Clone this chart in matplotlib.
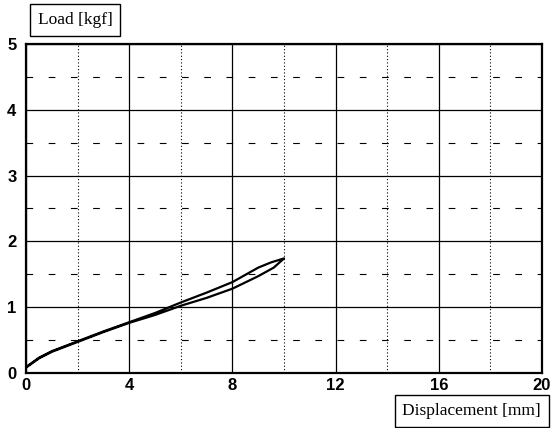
import matplotlib
matplotlib.use('Agg')  # noqa
import matplotlib.pyplot as plt

# loop: out along the lower branch, back along the upper one
disp_out = [0.0, 0.5, 1.0, 2.0, 3.0, 4.0, 5.0, 6.0, 7.0, 8.0, 9.0, 9.6, 10.0]
load_out = [0.08, 0.22, 0.32, 0.47, 0.62, 0.76, 0.88, 1.02, 1.14, 1.28, 1.47, 1.60, 1.74]
disp_back = [10.0, 9.5, 9.0, 8.0, 7.0, 6.0, 5.0, 4.0, 3.0, 2.0, 1.0, 0.5, 0.0]
load_back = [1.74, 1.68, 1.60, 1.38, 1.22, 1.07, 0.91, 0.77, 0.63, 0.48, 0.33, 0.23, 0.09]

x_ticks = [0, 4, 8, 12, 16, 20]
y_ticks = [0, 1, 2, 3, 4, 5]
x_minor = [2, 6, 10, 14, 18]
y_minor = [0.5, 1.5, 2.5, 3.5, 4.5]

fig = plt.figure(figsize=(5.57, 4.28), dpi=100)
ax = fig.add_axes([0.047, 0.129, 0.926, 0.768])

ax.plot(disp_out + disp_back, load_out + load_back, color='black', lw=1.6)

ax.set_xlim(0, 20)
ax.set_ylim(0, 5)
ax.set_xticks(x_ticks)
ax.set_yticks(y_ticks)
ax.set_xticks(x_minor, minor=True)
ax.set_yticks(y_minor, minor=True)
ax.grid(which='major', color='black', lw=0.9)
ax.grid(which='minor', axis='x', color='black', lw=0.8, linestyle=(0, (1, 2)))
ax.grid(which='minor', axis='y', color='black', lw=0.8, linestyle=(0, (6, 14)))
ax.tick_params(which='both', length=0)
ax.tick_params(axis='x', pad=4)
ax.tick_params(axis='y', pad=7)
for lab in ax.get_xticklabels() + ax.get_yticklabels():
    lab.set_fontfamily('Liberation Sans')
    lab.set_fontweight('bold')
    lab.set_fontsize(12)
for s in ax.spines.values():
    s.set_linewidth(1.6)

box = dict(boxstyle='square,pad=0.45', facecolor='white', edgecolor='black', lw=1.0)
fig.text(0.135, 0.953, 'Load [kgf]', family='Liberation Serif', fontsize=12.5,
         ha='center', va='center', bbox=box)
fig.text(0.847, 0.040, 'Displacement [mm]', family='Liberation Serif', fontsize=12.5,
         ha='center', va='center', bbox=box)

plt.savefig('out.png', dpi=100)
